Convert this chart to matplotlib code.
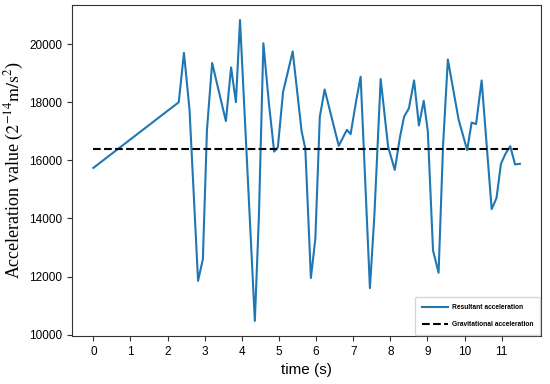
import matplotlib
matplotlib.use("Agg")
import matplotlib.pyplot as plt

# time (s) of each sample
time_s = [0.00, 2.30, 2.44, 2.59, 2.82, 2.95, 3.06, 3.20, 3.57, 3.71, 3.84, 3.95,
          4.35, 4.46, 4.58, 4.73, 4.87, 4.97, 5.11, 5.37, 5.61, 5.71, 5.86, 5.98,
          6.10, 6.23, 6.61, 6.83, 6.93, 7.08, 7.20, 7.45, 7.57, 7.74, 7.94, 8.12,
          8.26, 8.37, 8.50, 8.64, 8.77, 8.90, 9.01, 9.15, 9.30, 9.42, 9.55, 9.84,
          10.07, 10.19, 10.31, 10.46, 10.73, 10.86, 10.98, 11.10, 11.23, 11.36, 11.49]
# resultant acceleration (2^-14 m/s^2)
resultant = [15740, 18000, 19700, 17750, 11850, 12600, 17050, 19350, 17350, 19200, 18000, 20830,
             10470, 14100, 20030, 17950, 16300, 16450, 18350, 19750, 17000, 16400, 11950, 13300,
             17500, 18440, 16500, 17050, 16900, 18050, 18880, 11600, 14100, 18800, 16470, 15670,
             16800, 17500, 17790, 18750, 17200, 18050, 17000, 12900, 12130, 16500, 19470, 17400,
             16350, 17300, 17250, 18750, 14320, 14700, 15880, 16220, 16490, 15860, 15880]
gravity_t = [0.0, 11.44]
gravity_value = [16384, 16384]

series_labels = ["Resultant acceleration", "Gravitational acceleration"]
xticks = list(range(0, 12))
yticks = [10000, 12000, 14000, 16000, 18000, 20000]

plt.rcParams['font.family'] = ['Liberation Sans', 'DejaVu Sans']
plt.rcParams['mathtext.fontset'] = 'stix'

fig = plt.figure(figsize=(5.5, 3.84), dpi=100)
ax = fig.add_axes([0.131, 0.125, 0.853, 0.862])

ax.plot(time_s, resultant, color='#1f77b4', lw=1.5, label=series_labels[0])
ax.plot(gravity_t, gravity_value, color='black', lw=1.5, ls='--', label=series_labels[1])

ax.set_xticks(xticks)
ax.set_yticks(yticks)
ax.tick_params(labelsize=8.5, color='#333333')
for s in ax.spines.values():
    s.set_color('#333333')

ax.set_xlabel('time (s)', fontsize=11)
ax.set_ylabel(r'Acceleration value ($\mathrm{2^{-14}m/s^2}$)', fontsize=13,
              family=['Liberation Serif'], labelpad=2)

leg = ax.legend(loc='lower right', bbox_to_anchor=(1.0, 0.0), borderaxespad=0.2,
                prop={'size': 4.8, 'weight': 'bold'}, handlelength=4.0, handletextpad=0.5,
                labelspacing=1.5, borderpad=1.0, fancybox=True, edgecolor='#cccccc')

fig.savefig('out.png', dpi=100)
